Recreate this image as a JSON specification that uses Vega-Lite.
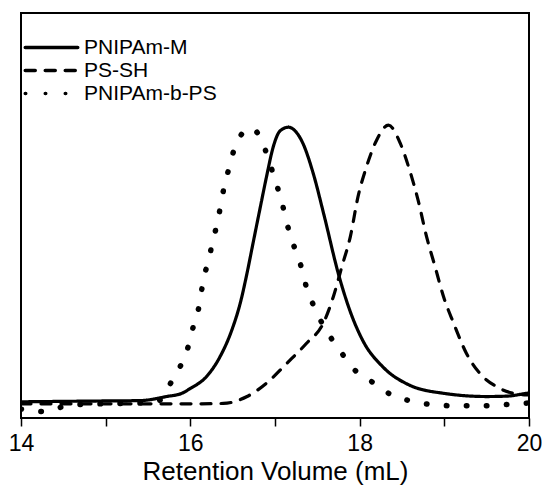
{
  "$schema": "https://vega.github.io/schema/vega-lite/v6.json",
  "width": 508,
  "height": 405,
  "autosize": "none",
  "padding": {"left": 21, "top": 13, "right": 13, "bottom": 68},
  "config": {
    "view": {"stroke": "black", "strokeWidth": 2},
    "font": "Liberation Sans"
  },
  "data": {
    "values": [
      {"series": "PNIPAm-M", "v": 14.00, "i": 0.040},
      {"series": "PNIPAm-M", "v": 14.46, "i": 0.041},
      {"series": "PNIPAm-M", "v": 14.93, "i": 0.042},
      {"series": "PNIPAm-M", "v": 15.41, "i": 0.043},
      {"series": "PNIPAm-M", "v": 15.72, "i": 0.053},
      {"series": "PNIPAm-M", "v": 15.90, "i": 0.061},
      {"series": "PNIPAm-M", "v": 16.00, "i": 0.073},
      {"series": "PNIPAm-M", "v": 16.19, "i": 0.102},
      {"series": "PNIPAm-M", "v": 16.35, "i": 0.151},
      {"series": "PNIPAm-M", "v": 16.49, "i": 0.217},
      {"series": "PNIPAm-M", "v": 16.59, "i": 0.284},
      {"series": "PNIPAm-M", "v": 16.67, "i": 0.358},
      {"series": "PNIPAm-M", "v": 16.74, "i": 0.431},
      {"series": "PNIPAm-M", "v": 16.82, "i": 0.514},
      {"series": "PNIPAm-M", "v": 16.90, "i": 0.596},
      {"series": "PNIPAm-M", "v": 16.98, "i": 0.670},
      {"series": "PNIPAm-M", "v": 17.06, "i": 0.709},
      {"series": "PNIPAm-M", "v": 17.16, "i": 0.718},
      {"series": "PNIPAm-M", "v": 17.25, "i": 0.706},
      {"series": "PNIPAm-M", "v": 17.33, "i": 0.678},
      {"series": "PNIPAm-M", "v": 17.45, "i": 0.605},
      {"series": "PNIPAm-M", "v": 17.58, "i": 0.500},
      {"series": "PNIPAm-M", "v": 17.75, "i": 0.355},
      {"series": "PNIPAm-M", "v": 17.89, "i": 0.262},
      {"series": "PNIPAm-M", "v": 18.04, "i": 0.190},
      {"series": "PNIPAm-M", "v": 18.28, "i": 0.125},
      {"series": "PNIPAm-M", "v": 18.59, "i": 0.081},
      {"series": "PNIPAm-M", "v": 18.99, "i": 0.061},
      {"series": "PNIPAm-M", "v": 19.50, "i": 0.053},
      {"series": "PNIPAm-M", "v": 19.74, "i": 0.054},
      {"series": "PNIPAm-M", "v": 19.97, "i": 0.061},
      {"series": "PNIPAm-M", "v": 20.00, "i": 0.062},
      {"series": "PS-SH", "v": 14.00, "i": 0.035},
      {"series": "PS-SH", "v": 15.60, "i": 0.035},
      {"series": "PS-SH", "v": 16.00, "i": 0.035},
      {"series": "PS-SH", "v": 16.39, "i": 0.036},
      {"series": "PS-SH", "v": 16.67, "i": 0.053},
      {"series": "PS-SH", "v": 16.90, "i": 0.086},
      {"series": "PS-SH", "v": 17.14, "i": 0.135},
      {"series": "PS-SH", "v": 17.37, "i": 0.184},
      {"series": "PS-SH", "v": 17.57, "i": 0.234},
      {"series": "PS-SH", "v": 17.69, "i": 0.300},
      {"series": "PS-SH", "v": 17.79, "i": 0.374},
      {"series": "PS-SH", "v": 17.89, "i": 0.448},
      {"series": "PS-SH", "v": 17.98, "i": 0.546},
      {"series": "PS-SH", "v": 18.08, "i": 0.620},
      {"series": "PS-SH", "v": 18.20, "i": 0.686},
      {"series": "PS-SH", "v": 18.34, "i": 0.723},
      {"series": "PS-SH", "v": 18.48, "i": 0.678},
      {"series": "PS-SH", "v": 18.59, "i": 0.612},
      {"series": "PS-SH", "v": 18.69, "i": 0.538},
      {"series": "PS-SH", "v": 18.79, "i": 0.448},
      {"series": "PS-SH", "v": 18.89, "i": 0.374},
      {"series": "PS-SH", "v": 18.99, "i": 0.300},
      {"series": "PS-SH", "v": 19.11, "i": 0.234},
      {"series": "PS-SH", "v": 19.26, "i": 0.160},
      {"series": "PS-SH", "v": 19.42, "i": 0.110},
      {"series": "PS-SH", "v": 19.62, "i": 0.077},
      {"series": "PS-SH", "v": 19.81, "i": 0.061},
      {"series": "PS-SH", "v": 19.97, "i": 0.057},
      {"series": "PS-SH", "v": 20.00, "i": 0.057},
      {"series": "PNIPAm-b-PS", "v": 14.00, "i": 0.022},
      {"series": "PNIPAm-b-PS", "v": 14.26, "i": 0.016},
      {"series": "PNIPAm-b-PS", "v": 14.58, "i": 0.032},
      {"series": "PNIPAm-b-PS", "v": 14.93, "i": 0.035},
      {"series": "PNIPAm-b-PS", "v": 15.41, "i": 0.037},
      {"series": "PNIPAm-b-PS", "v": 15.64, "i": 0.044},
      {"series": "PNIPAm-b-PS", "v": 15.74, "i": 0.077},
      {"series": "PNIPAm-b-PS", "v": 15.88, "i": 0.127},
      {"series": "PNIPAm-b-PS", "v": 15.98, "i": 0.180},
      {"series": "PNIPAm-b-PS", "v": 16.04, "i": 0.230},
      {"series": "PNIPAm-b-PS", "v": 16.11, "i": 0.283},
      {"series": "PNIPAm-b-PS", "v": 16.15, "i": 0.337},
      {"series": "PNIPAm-b-PS", "v": 16.21, "i": 0.386},
      {"series": "PNIPAm-b-PS", "v": 16.27, "i": 0.440},
      {"series": "PNIPAm-b-PS", "v": 16.33, "i": 0.493},
      {"series": "PNIPAm-b-PS", "v": 16.38, "i": 0.551},
      {"series": "PNIPAm-b-PS", "v": 16.44, "i": 0.604},
      {"series": "PNIPAm-b-PS", "v": 16.51, "i": 0.658},
      {"series": "PNIPAm-b-PS", "v": 16.63, "i": 0.707},
      {"series": "PNIPAm-b-PS", "v": 16.71, "i": 0.716},
      {"series": "PNIPAm-b-PS", "v": 16.83, "i": 0.691},
      {"series": "PNIPAm-b-PS", "v": 16.92, "i": 0.641},
      {"series": "PNIPAm-b-PS", "v": 17.00, "i": 0.588},
      {"series": "PNIPAm-b-PS", "v": 17.08, "i": 0.534},
      {"series": "PNIPAm-b-PS", "v": 17.14, "i": 0.481},
      {"series": "PNIPAm-b-PS", "v": 17.22, "i": 0.427},
      {"series": "PNIPAm-b-PS", "v": 17.30, "i": 0.380},
      {"series": "PNIPAm-b-PS", "v": 17.37, "i": 0.324},
      {"series": "PNIPAm-b-PS", "v": 17.47, "i": 0.271},
      {"series": "PNIPAm-b-PS", "v": 17.59, "i": 0.221},
      {"series": "PNIPAm-b-PS", "v": 17.75, "i": 0.172},
      {"series": "PNIPAm-b-PS", "v": 17.92, "i": 0.123},
      {"series": "PNIPAm-b-PS", "v": 18.14, "i": 0.090},
      {"series": "PNIPAm-b-PS", "v": 18.38, "i": 0.057},
      {"series": "PNIPAm-b-PS", "v": 18.65, "i": 0.040},
      {"series": "PNIPAm-b-PS", "v": 18.91, "i": 0.032},
      {"series": "PNIPAm-b-PS", "v": 19.16, "i": 0.030},
      {"series": "PNIPAm-b-PS", "v": 19.42, "i": 0.030},
      {"series": "PNIPAm-b-PS", "v": 19.66, "i": 0.032},
      {"series": "PNIPAm-b-PS", "v": 19.91, "i": 0.036},
      {"series": "PNIPAm-b-PS", "v": 20.00, "i": 0.037}
    ]
  },
  "encoding": {
    "x": {
      "field": "v",
      "type": "quantitative",
      "scale": {"domain": [14, 20], "nice": false},
      "axis": {
        "title": "Retention Volume (mL)",
        "values": [14, 15, 16, 17, 18, 19, 20],
        "labelExpr": "datum.value % 2 == 0 ? datum.label : ''",
        "grid": false,
        "domain": false,
        "tickColor": "black",
        "tickSize": 8,
        "tickWidth": 1.5,
        "labelFontSize": 23,
        "labelColor": "black",
        "labelPadding": 6,
        "labelFlush": false,
        "titleFontSize": 26,
        "titleFontWeight": "normal",
        "titleColor": "black",
        "titlePadding": 3
      }
    },
    "y": {
      "field": "i",
      "type": "quantitative",
      "scale": {"domain": [0, 1], "nice": false},
      "axis": null
    },
    "strokeDash": {
      "field": "series",
      "type": "nominal",
      "scale": {
        "domain": ["PNIPAm-M", "PS-SH", "PNIPAm-b-PS"],
        "range": [[1, 0], [10, 10], [0.5, 19.5]]
      },
      "legend": {
        "title": null,
        "orient": "none",
        "legendX": 18,
        "legendY": 22,
        "symbolType": "M-2.5,0H2.5",
        "symbolSize": 441,
        "symbolStrokeWidth": 3.5,
        "symbolStrokeColor": "black",
        "labelFontSize": 21,
        "labelColor": "black",
        "labelOffset": 20,
        "rowPadding": 0,
        "encode": {"symbols": {"update": {"strokeCap": {"value": "round"}}}}
      }
    }
  },
  "layer": [
    {
      "transform": [{"filter": "datum.series != 'PNIPAm-b-PS'"}],
      "mark": {"type": "line", "color": "black", "strokeWidth": 3.2, "strokeCap": "round", "strokeJoin": "round", "interpolate": "monotone", "clip": true}
    },
    {
      "transform": [{"filter": "datum.series == 'PNIPAm-b-PS'"}],
      "mark": {"type": "line", "color": "black", "strokeWidth": 5.5, "strokeCap": "round", "strokeJoin": "round", "interpolate": "monotone", "clip": true}
    }
  ]
}
